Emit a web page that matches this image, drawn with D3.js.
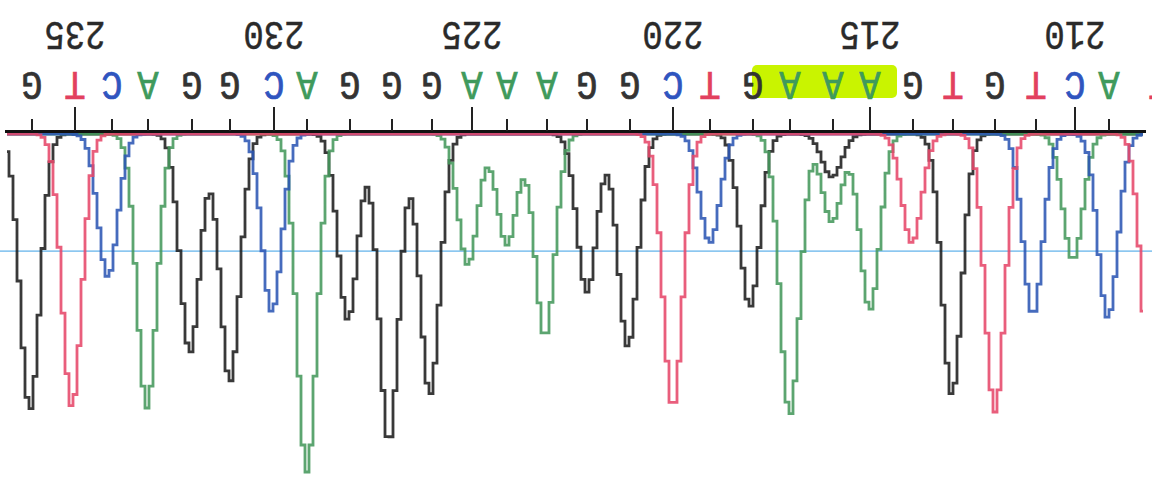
<!DOCTYPE html>
<html><head><meta charset="utf-8">
<script src="https://cdn.jsdelivr.net/npm/d3@7"></script>
<style>body{margin:0;background:#fff}svg{display:block}</style>
</head><body><svg id="c" width="1152" height="477"></svg>
<script>
// ---- data ----
const baseLetters = ["G","T","C","A","G","G","C","A","G","G","G","A","A","A","G","G","C","T","G","A","A","A","G","T","G","T","C","A","T"];
const basePositions = [236.075,235.0,234.075,233.175,232.075,231.125,230.025,229.2,228.125,227.075,226.075,225.075,224.2,223.2,222.2,221.125,220.05,219.125,218.05,217.125,216.05,215.125,214.05,213.05,212.0,210.975,210.0,209.15,207.9];
const firstBaseNumber = 236;
const tickLabels = [235,230,225,220,215,210];
const highlightBases = [19,20,21];
// peaks per dye channel: [position, intensity]
const peaksG = [[236.125,828],[232.125,657],[231.125,744],[228.175,558],[227.15,927],[226.125,783],[222.2,474],[221.175,639],[218.125,519],[216.075,129],[213.075,783]];
const peaksA = [[233.2,822],[229.2,1014],[225.175,393],[224.2,333],[223.25,609],[217.125,843],[216.075,264],[215.125,528],[210.05,378]];
const peaksC = [[234.175,429],[230.075,534],[219.125,327],[211.05,543],[209.175,552]];
const peaksT = [[235.075,819],[220.05,822],[214.075,327],[212.0,834],[208.075,810]];

// ---- drawing ----
const W = 1152, H = 477;
const svg = d3.select("#c");
svg.append("rect").attr("width",W).attr("height",H).attr("fill","#fff");

const x = d3.scaleLinear().domain([235,210]).range([75,1075]);
const y = d3.scaleLinear().domain([0,1000]).range([134,134+1000/3]);
const sigma = 0.245;
const traceDomain = [x.invert(7), x.invert(1145)];

const dyeColor = {G:"#1e1e1e", A:"#45985c", C:"#2c56b4", T:"#e6486a"};
const letterColor = {G:"#333333", A:"#3f9a5c", C:"#2f55bf", T:"#e2405e"};

// reference line
svg.append("rect").attr("x",0).attr("width",W).attr("y",250.5).attr("height",1.2)
  .attr("fill","#5cb0ea");

// highlight
const hx0 = x(basePositions[highlightBases[0]]) - 38;
const hx1 = x(basePositions[highlightBases[highlightBases.length-1]]) + 27;
svg.append("rect").attr("x",hx0).attr("y",65).attr("width",hx1-hx0).attr("height",33)
  .attr("rx",5).attr("fill","#c9f400");

svg.append("clipPath").attr("id","clip").append("rect")
  .attr("x",7).attr("y",0).attr("width",1145-7).attr("height",H);

const samples = d3.range(traceDomain[0], traceDomain[1], -0.1);
const line = d3.line().x(d=>x(d[0])).y(d=>y(d[1])).curve(d3.curveStep);
const channels = [["G",peaksG],["A",peaksA],["C",peaksC],["T",peaksT]];
const tg = svg.append("g").attr("clip-path","url(#clip)");
channels.forEach(([k,peaks])=>{
  const pts = samples.map(p=>[p, d3.sum(peaks, d=>d[1]*Math.exp(-((p-d[0])**2)/(2*sigma*sigma)))]);
  tg.append("path").attr("d",line(pts)).attr("fill","none")
    .attr("stroke",dyeColor[k]).attr("stroke-width",2.8).attr("stroke-opacity",0.88);
});

// axis
svg.append("line").attr("x1",5).attr("x2",1146).attr("y1",131.5).attr("y2",131.5)
  .attr("stroke","#111").attr("stroke-width",3);
basePositions.forEach((p,i)=>{
  const num = firstBaseNumber - i;
  const major = tickLabels.includes(num);
  if (x(p) > 1146) return;
  svg.append("line").attr("x1",x(p)).attr("x2",x(p))
    .attr("y1",major?107:119).attr("y2",131)
    .attr("stroke","#222").attr("stroke-width",2);
});

// base letters (chart is shown rotated 180°)
basePositions.forEach((p,i)=>{
  svg.append("text")
    .attr("transform",`translate(${x(p)},82.5) rotate(180) scale(1.1,1.25)`)
    .attr("text-anchor","middle").attr("dominant-baseline","central")
    .attr("font-family","Liberation Mono, monospace").attr("font-size",32)
    .attr("stroke",letterColor[baseLetters[i]]).attr("stroke-width",0.6)
    .attr("fill",letterColor[baseLetters[i]]).text(baseLetters[i]);
});

// position numbers
tickLabels.forEach(n=>{
  const p = basePositions[firstBaseNumber - n];
  svg.append("text")
    .attr("transform",`translate(${x(p)},32.5) rotate(180) scale(1,1.2)`)
    .attr("text-anchor","middle").attr("dominant-baseline","central")
    .attr("font-family","Liberation Mono, monospace").attr("font-size",34)
    .attr("stroke","#2a2a2a").attr("stroke-width",0.4)
    .attr("fill","#2a2a2a").text(n);
});
</script></body></html>
